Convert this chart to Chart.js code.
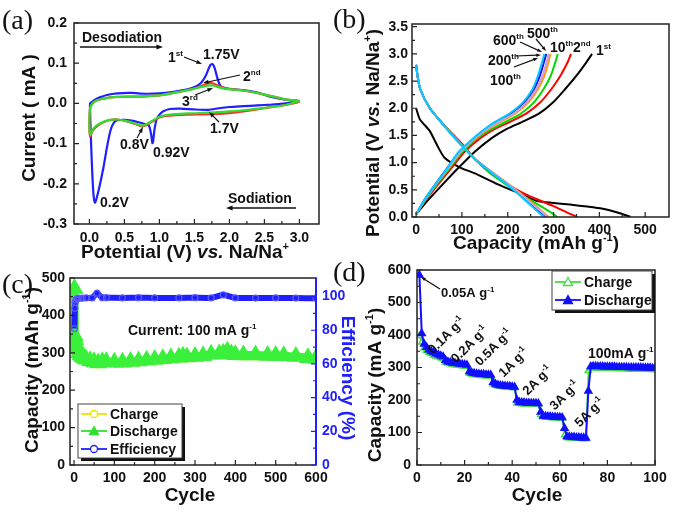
<!DOCTYPE html>
<html>
<head>
<meta charset="utf-8">
<script src="https://cdn.jsdelivr.net/npm/chart.js@4.4.1/dist/chart.umd.min.js"></script>
<style>
  html, body { margin: 0; padding: 0; background: #fff; }
  #wrap { position: relative; width: 673px; height: 512px; overflow: hidden; }
  canvas { position: absolute; left: 0; top: 0; }
</style>
</head>
<body>
<div id="wrap">
  <canvas id="cA" width="673" height="512"></canvas>
  <canvas id="cB" width="673" height="512"></canvas>
  <canvas id="cC" width="673" height="512"></canvas>
  <canvas id="cD" width="673" height="512"></canvas>
</div>
<script>
// ---------- (a) cyclic voltammetry: potential (V) and current (mA), one loop per cycle ----------
const cv1V = [3.0, 2.8, 2.6, 2.4, 2.2, 2.0, 1.85, 1.7, 1.5, 1.3, 1.15, 1.05, 1.0, 0.96, 0.93, 0.91, 0.9, 0.88, 0.85, 0.8, 0.7, 0.6, 0.5, 0.4, 0.35, 0.3, 0.25, 0.2, 0.14, 0.1, 0.08, 0.06, 0.04, 0.02, 0.01,
              0.01, 0.04, 0.08, 0.15, 0.25, 0.4, 0.6, 0.8, 1.0, 1.2, 1.4, 1.52, 1.6, 1.66, 1.7, 1.73, 1.76, 1.79, 1.82, 1.86, 1.9, 2.0, 2.2, 2.4, 2.6, 2.8, 3.0];
const cv1I = [0.004, 0.0, -0.003, -0.005, -0.007, -0.009, -0.012, -0.016, -0.015, -0.013, -0.014, -0.02, -0.028, -0.04, -0.065, -0.095, -0.099, -0.075, -0.055, -0.052, -0.047, -0.043, -0.041, -0.042, -0.048, -0.068, -0.11, -0.16, -0.21, -0.238, -0.247, -0.23, -0.17, -0.08, -0.02,
              0.0, 0.004, 0.009, 0.015, 0.021, 0.025, 0.026, 0.024, 0.025, 0.029, 0.035, 0.042, 0.052, 0.068, 0.085, 0.096, 0.098, 0.088, 0.068, 0.047, 0.04, 0.036, 0.033, 0.027, 0.016, 0.009, 0.006];
const cv2V = [3.0, 2.8, 2.5, 2.2, 2.0, 1.7, 1.4, 1.1, 1.0, 0.9, 0.8, 0.75, 0.65, 0.5, 0.4, 0.3, 0.2, 0.12, 0.05, 0.01,
              0.0, 0.01, 0.04, 0.1, 0.2, 0.4, 0.7, 1.0, 1.2, 1.4, 1.55, 1.65, 1.72, 1.78, 1.85, 1.95, 2.2, 2.5, 2.8, 3.0];
const cv2I = [0.004, -0.004, -0.012, -0.02, -0.024, -0.027, -0.028, -0.031, -0.035, -0.045, -0.055, -0.057, -0.051, -0.043, -0.04, -0.041, -0.047, -0.055, -0.067, -0.082,
              -0.05, -0.012, -0.001, 0.007, 0.012, 0.016, 0.017, 0.02, 0.026, 0.033, 0.04, 0.047, 0.051, 0.049, 0.043, 0.037, 0.032, 0.022, 0.01, 0.005];
const cv3V = [3.0, 2.8, 2.5, 2.2, 2.0, 1.7, 1.4, 1.1, 1.0, 0.9, 0.8, 0.75, 0.65, 0.5, 0.4, 0.3, 0.2, 0.12, 0.05, 0.01,
              0.0, 0.01, 0.04, 0.1, 0.2, 0.4, 0.7, 1.0, 1.2, 1.4, 1.55, 1.65, 1.72, 1.78, 1.85, 1.95, 2.2, 2.5, 2.8, 3.0];
const cv3I = [0.006, -0.004, -0.011, -0.017, -0.02, -0.023, -0.025, -0.029, -0.033, -0.043, -0.053, -0.055, -0.05, -0.043, -0.04, -0.041, -0.046, -0.053, -0.064, -0.078,
              -0.05, -0.012, -0.001, 0.007, 0.012, 0.016, 0.017, 0.02, 0.026, 0.033, 0.039, 0.043, 0.045, 0.044, 0.04, 0.036, 0.032, 0.022, 0.01, 0.006];
const aTicksX = [0, 0.5, 1.0, 1.5, 2.0, 2.5, 3.0];
const aTicksY = [-0.3, -0.2, -0.1, 0.0, 0.1, 0.2];

// ---------- (b) charge/discharge profiles: capacity at fixed potential levels ----------
const cycleNames = ['1st', '2nd', '10th', '100th', '200th', '500th', '600th'];
const chgV = [0.05, 0.3, 0.6, 0.9, 1.2, 1.45, 1.62, 1.75, 1.9, 2.1, 2.35, 2.6, 2.85, 3.0];
const chgCap1 = [0, 25, 58, 92, 128, 165, 198, 232, 268, 298, 325, 350, 372, 384];
const chgCap2 = [0, 20, 48, 77, 106, 140, 172, 205, 240, 270, 295, 315, 331, 338];
const chgCap10 = [0, 19, 45, 73, 101, 133, 165, 195, 228, 256, 278, 294, 304, 309];
const chgCap100 = [0, 18, 43, 70, 98, 130, 158, 184, 216, 244, 266, 280, 289, 293];
const chgCap200 = [0, 17, 42, 68, 95, 126, 152, 175, 206, 235, 257, 270, 279, 284];
const chgCap500 = [0, 18, 43, 70, 97, 128, 155, 180, 212, 240, 262, 276, 285, 290];
const chgCap600 = [0, 17, 42, 68, 93, 125, 150, 172, 203, 232, 254, 266, 275, 280];
const dchV1 = [2.0, 1.8, 1.58, 1.3, 1.09, 0.91, 0.79, 0.61, 0.43, 0.3, 0.22, 0.16, 0.07, 0.0];
const dchCap1 = [0, 8, 30, 47, 62, 96, 132, 176, 227, 262, 343, 402, 445, 468];
const dchV = [2.8, 2.6, 2.35, 2.0, 1.7, 1.35, 1.05, 0.82, 0.6, 0.4, 0.2, 0.08, 0.0];
const dchCap2 = [0, 3, 9, 30, 60, 100, 130, 160, 200, 243, 300, 330, 352];
const dchCap10 = [0, 3, 9, 30, 60, 98, 130, 160, 196, 232, 272, 295, 308];
const dchCap100 = [0, 3, 9, 30, 59, 96, 131, 167, 202, 233, 262, 278, 290];
const dchCap200 = [0, 3, 9, 30, 59, 96, 131, 165, 200, 228, 255, 272, 284];
const dchCap500 = [0, 3, 9, 30, 59, 96, 131, 166, 201, 231, 259, 276, 288];
const dchCap600 = [0, 3, 9, 30, 59, 95, 130, 164, 198, 226, 252, 268, 280];
const bTicksX = [0, 100, 200, 300, 400, 500];
const bTicksY = [0.0, 0.5, 1.0, 1.5, 2.0, 2.5, 3.0, 3.5];

// ---------- (c) long cycling at 100 mA/g ----------
const cycC = [1, 2, 3, 5, 8, 12, 16, 20, 25, 30, 40, 50, 60, 70, 80, 100, 120, 140, 160, 180, 200, 220, 240, 260, 270, 280, 300, 320, 340, 360, 370, 380, 390, 400, 420, 450, 480, 500, 520, 550, 580, 600];
const disC = [472, 345, 335, 322, 310, 300, 294, 290, 287, 283, 279, 276, 273, 276, 276, 275, 275, 277, 278, 280, 282, 284, 286, 288, 291, 289, 290, 292, 296, 297, 299, 304, 297, 295, 294, 294, 293, 293, 292, 290, 287, 285];
const chgC = [380, 338, 330, 318, 306, 297, 291, 287, 284, 280, 276, 273, 270, 273, 273, 272, 272, 274, 275, 277, 279, 281, 283, 285, 288, 286, 287, 289, 293, 294, 296, 301, 294, 292, 291, 291, 290, 290, 289, 287, 284, 282];
const effCyc = [1, 2, 3, 5, 8, 12, 20, 30, 45, 57, 70, 80, 120, 160, 200, 260, 300, 340, 370, 400, 450, 500, 550, 600];
const effC = [81, 93, 96.5, 98, 98.8, 99, 99, 99.2, 99.2, 102, 99.3, 99.3, 99.2, 99.3, 99.2, 99.2, 99.3, 99.2, 101, 99.2, 99.1, 99.2, 99.1, 99.0];
const cTicksX = [0, 100, 200, 300, 400, 500, 600];
const cTicksY = [0, 100, 200, 300, 400, 500];
const cTicksY2 = [0, 20, 40, 60, 80, 100];

// ---------- (d) rate capability ----------
const disD = [585, 405,
  372, 362, 355, 350, 346, 342, 339, 336, 333,
  322, 318, 316, 314, 313, 312, 311, 310, 309, 308,
  288, 284, 282, 281, 280, 279, 279, 278, 278, 277,
  255, 249, 246, 245, 244, 243, 242, 242, 241, 240,
  200, 193, 192, 192, 191, 191, 190, 190, 190, 189,
  163, 151, 150, 149, 149, 148, 148, 147, 147, 146,
  113, 88, 87, 86, 86, 85, 85, 84, 84, 83,
  228,
  303, 304, 304, 303, 303, 303, 302, 302, 302, 302, 302, 301, 301, 301, 301, 301, 300, 300, 300, 300, 300, 300, 299, 299, 299, 299, 298, 298];
const chgD = [398, 378,
  360, 352, 346, 342, 338, 335, 332, 329, 326,
  316, 313, 311, 309, 308, 307, 306, 305, 304, 303,
  282, 279, 278, 277, 276, 275, 275, 274, 274, 273,
  249, 245, 243, 242, 241, 240, 239, 239, 238, 237,
  190, 189, 188, 188, 188, 187, 187, 187, 186, 186,
  155, 148, 147, 146, 146, 145, 145, 145, 144, 144,
  92, 84, 83, 83, 82, 82, 82, 81, 81, 81,
  290,
  298, 299, 299, 298, 298, 298, 297, 297, 297, 297, 297, 296, 296, 296, 296, 296, 295, 295, 295, 295, 295, 295, 294, 294, 294, 294, 293, 293];
const cycD = disD.map((_, i) => i + 1);
const dTicksX = [0, 20, 40, 60, 80, 100];
const dTicksY = [0, 100, 200, 300, 400, 500, 600];

// ---------- drawing helpers ----------
const FONT = "'Liberation Sans', Arial, Helvetica, sans-serif";
const SERIF = "'Liberation Serif', 'Times New Roman', serif";
const W = 673, H = 512, YW = 60, XH = 30;
const INK = '#111';
const BLUE = '#2020ff';

function pts(xs, ys) { return xs.map((x, i) => ({ x: x, y: ys[i] })); }

// parts: strings, or [text, 'sup'] / [text, 'it']
function rich(ctx, parts, x, y, o) {
  o = o || {};
  const size = o.size || 14;
  const segs = parts.map(p => typeof p === 'string' ? { t: p } : { t: p[0], k: p[1] });
  ctx.save();
  ctx.translate(x, y);
  if (o.rot) ctx.rotate(o.rot);
  let w = 0;
  segs.forEach(s => {
    s.f = (s.k === 'it' ? 'italic ' : '') + 'bold ' + (s.k === 'sup' ? Math.round(size * 0.6) : size) + 'px ' + FONT;
    ctx.font = s.f;
    s.w = ctx.measureText(s.t).width;
    w += s.w;
  });
  let cx = o.align === 'left' ? 0 : (o.align === 'right' ? -w : -w / 2);
  const dy = o.mid ? size * 0.36 : 0;
  ctx.fillStyle = o.color || INK;
  ctx.textAlign = 'left';
  ctx.textBaseline = 'alphabetic';
  segs.forEach(s => {
    ctx.font = s.f;
    ctx.fillText(s.t, cx, dy + (s.k === 'sup' ? -size * 0.42 : 0));
    cx += s.w;
  });
  ctx.restore();
}

function arrow(ctx, x1, y1, x2, y2, o) {
  o = o || {};
  const head = o.head || 6;
  const ang = Math.atan2(y2 - y1, x2 - x1);
  ctx.save();
  ctx.strokeStyle = INK; ctx.fillStyle = INK;
  ctx.lineWidth = o.width || 1.2;
  ctx.beginPath();
  ctx.moveTo(x1, y1);
  ctx.lineTo(x2 - Math.cos(ang) * head * 0.8, y2 - Math.sin(ang) * head * 0.8);
  ctx.stroke();
  ctx.beginPath();
  ctx.moveTo(x2, y2);
  ctx.lineTo(x2 - head * Math.cos(ang - 0.35), y2 - head * Math.sin(ang - 0.35));
  ctx.lineTo(x2 - head * Math.cos(ang + 0.35), y2 - head * Math.sin(ang + 0.35));
  ctx.closePath();
  ctx.fill();
  ctx.restore();
}

function panelLabel(ctx, text, x, y) {
  ctx.save();
  ctx.font = '28px ' + SERIF;
  ctx.fillStyle = INK;
  ctx.textBaseline = 'alphabetic';
  ctx.fillText(text, x, y);
  ctx.restore();
}

// box round the plot and Origin-style inward ticks
function frame(chart, majX, majY, majY2) {
  const ctx = chart.ctx, a = chart.chartArea;
  const sx = chart.scales.x, sy = chart.scales.y;
  ctx.save();
  ctx.strokeStyle = '#222';
  ctx.lineWidth = 1.5;
  ctx.strokeRect(a.left, a.top, a.right - a.left, a.bottom - a.top);
  ctx.lineWidth = 1.2;
  const marks = (vals, fn) => {
    vals.forEach((v, i) => {
      fn(v, 5);
      if (i < vals.length - 1) fn((v + vals[i + 1]) / 2, 3);
    });
  };
  ctx.beginPath();
  marks(majX, (v, len) => { const p = sx.getPixelForValue(v); ctx.moveTo(p, a.bottom); ctx.lineTo(p, a.bottom - len); });
  marks(majY, (v, len) => { const p = sy.getPixelForValue(v); ctx.moveTo(a.left, p); ctx.lineTo(a.left + len, p); });
  ctx.stroke();
  if (majY2) {
    const s2 = chart.scales.y2;
    ctx.strokeStyle = BLUE;
    ctx.lineWidth = 2;
    ctx.beginPath();
    ctx.moveTo(a.right, a.top); ctx.lineTo(a.right, a.bottom);
    ctx.stroke();
    ctx.lineWidth = 1.2;
    ctx.beginPath();
    marks(majY2, (v, len) => { const p = s2.getPixelForValue(v); ctx.moveTo(a.right, p); ctx.lineTo(a.right - len, p); });
    ctx.stroke();
  }
  ctx.restore();
}

function legendBox(ctx, x, y, w, h) {
  ctx.save();
  ctx.fillStyle = '#111';
  ctx.fillRect(x + 3, y + 3, w, h);
  ctx.fillStyle = '#fff';
  ctx.fillRect(x, y, w, h);
  ctx.strokeStyle = '#444';
  ctx.lineWidth = 1;
  ctx.strokeRect(x, y, w, h);
  ctx.restore();
}

function legendRow(ctx, x, y, color, style, filled, label) {
  ctx.save();
  ctx.strokeStyle = color;
  ctx.lineWidth = 1.8;
  ctx.beginPath(); ctx.moveTo(x, y); ctx.lineTo(x + 26, y); ctx.stroke();
  ctx.lineWidth = 1.3;
  ctx.fillStyle = filled ? color : '#fff';
  ctx.beginPath();
  if (style === 'circle') ctx.arc(x + 13, y, 3.5, 0, Math.PI * 2);
  else { ctx.moveTo(x + 13, y - 4.5); ctx.lineTo(x + 17.5, y + 3.5); ctx.lineTo(x + 8.5, y + 3.5); ctx.closePath(); }
  ctx.fill(); ctx.stroke();
  ctx.restore();
  rich(ctx, [label], x + 29, y + 5, { size: 14, align: 'left' });
}

function axis(min, max, ticksArr, fmt, pad, extra) {
  return Object.assign({
    type: 'linear', min: min, max: max,
    grid: { display: false, drawTicks: false },
    border: { display: false },
    ticks: { color: INK, font: { family: FONT, size: 14, weight: 'bold' }, padding: pad, callback: fmt },
    afterBuildTicks: s => { s.ticks = ticksArr.map(v => ({ value: v })); }
  }, extra);
}
const xFit = s => { s.height = XH; s.paddingLeft = 0; s.paddingRight = 0; };
const yFit = s => { s.width = YW; s.paddingTop = 0; s.paddingBottom = 0; };
const y2Fit = s => { s.width = 40; s.paddingTop = 0; s.paddingBottom = 0; };
const f1 = v => v.toFixed(1);
const f0 = v => String(v);

function makeChart(id, box, scales, datasets, draw) {
  return new Chart(document.getElementById(id), {
    type: 'scatter',
    data: { datasets: datasets },
    options: {
      responsive: false,
      animation: false,
      events: [],
      layout: { padding: { left: box.l - YW, top: box.t, right: W - box.r - (box.rw || 0), bottom: H - box.b - XH } },
      plugins: { legend: { display: false }, tooltip: { enabled: false } },
      scales: scales
    },
    plugins: [{ id: 'deco' + id, afterDraw: chart => draw(chart) }]
  });
}

function curve(xs, ys, color, width, order) {
  return { data: pts(xs, ys), showLine: true, borderColor: color, borderWidth: width, pointRadius: 0, tension: 0.2, order: order };
}

// ---------- (a) ----------
makeChart('cA', { l: 74, t: 23, r: 319, b: 224 }, {
  x: axis(-0.22, 3.28, aTicksX, f1, 6, { afterFit: xFit }),
  y: axis(-0.3, 0.2, aTicksY, f1, 7, { afterFit: yFit })
}, [
  curve(cv3V, cv3I, '#30dd30', 2.2, 0),
  curve(cv2V, cv2I, '#ff3030', 2.2, 1),
  curve(cv1V, cv1I, '#1f1fff', 2.2, 2)
], chart => {
  const ctx = chart.ctx;
  frame(chart, aTicksX, aTicksY);
  panelLabel(ctx, '(a)', 2, 29);
  rich(ctx, ['Potential (V) ', ['vs.', 'it'], ' Na/Na', ['+', 'sup']], 185, 258, { size: 19 });
  rich(ctx, ['Current ( mA )'], 35, 118, { size: 19, rot: -Math.PI / 2 });
  rich(ctx, ['Desodiation'], 82, 42, { align: 'left' });
  arrow(ctx, 80, 47, 163, 47, { width: 1.6, head: 7 });
  rich(ctx, ['Sodiation'], 228, 203, { align: 'left' });
  arrow(ctx, 296, 208, 226, 208, { width: 1.6, head: 7 });
  rich(ctx, ['1', ['st', 'sup']], 168, 62, { align: 'left' });
  arrow(ctx, 184, 57, 202, 64);
  rich(ctx, ['1.75V'], 203, 59, { align: 'left' });
  rich(ctx, ['2', ['nd', 'sup']], 243, 81, { align: 'left' });
  arrow(ctx, 240, 75, 203, 83);
  rich(ctx, ['3', ['rd', 'sup']], 182, 106, { align: 'left' });
  arrow(ctx, 195, 95, 213, 88);
  rich(ctx, ['1.7V'], 210, 133, { align: 'left' });
  arrow(ctx, 219, 122, 209, 112);
  rich(ctx, ['0.8V'], 120, 149, { align: 'left' });
  arrow(ctx, 137, 138, 143, 127);
  rich(ctx, ['0.92V'], 153, 157, { align: 'left' });
  rich(ctx, ['0.2V'], 100, 207, { align: 'left' });
});

// ---------- (b) ----------
const bColors = ['#000000', '#ff0000', '#00d800', '#ff9900', '#0000ff', '#c9a0e8', '#00ccff'];
const bCharge = [chgCap1, chgCap2, chgCap10, chgCap100, chgCap200, chgCap500, chgCap600];
const bDischarge = [dchCap1, dchCap2, dchCap10, dchCap100, dchCap200, dchCap500, dchCap600];
const bSets = [];
cycleNames.forEach((name, i) => {
  bSets.push(curve(bCharge[i], chgV, bColors[i], 2, 10 - i));
  bSets.push(curve(bDischarge[i], i === 0 ? dchV1 : dchV, bColors[i], 2, 10 - i));
});
makeChart('cB', { l: 412, t: 24, r: 669, b: 217 }, {
  x: axis(-9, 552, bTicksX, f0, 5, { afterFit: xFit }),
  y: axis(0, 3.55, bTicksY, f1, 4, { afterFit: yFit })
}, bSets, chart => {
  const ctx = chart.ctx;
  frame(chart, bTicksX, bTicksY);
  panelLabel(ctx, '(b)', 333, 28);
  rich(ctx, ['Capacity (mAh g', ['-1', 'sup'], ')'], 536, 249, { size: 19 });
  rich(ctx, ['Potential (V ', ['vs.', 'it'], ' Na/Na', ['+', 'sup'], ')'], 379, 133, { size: 19, rot: -Math.PI / 2 });
  rich(ctx, ['600', ['th', 'sup']], 493, 45, { align: 'left' });
  rich(ctx, ['500', ['th', 'sup']], 527, 38, { align: 'left' });
  rich(ctx, ['10', ['th', 'sup']], 550, 52, { align: 'left' });
  rich(ctx, ['2', ['nd', 'sup']], 573, 52, { align: 'left' });
  rich(ctx, ['1', ['st', 'sup']], 596, 55, { align: 'left' });
  rich(ctx, ['200', ['th', 'sup']], 488, 65, { align: 'left' });
  rich(ctx, ['100', ['th', 'sup']], 490, 85, { align: 'left' });
  arrow(ctx, 520, 42, 542, 52, { head: 5 });
  arrow(ctx, 536, 39, 546, 51, { head: 5 });
  arrow(ctx, 516, 56, 541, 55, { head: 5 });
  arrow(ctx, 514, 67, 538, 58, { head: 5 });
});

// ---------- (c) ----------
makeChart('cC', { l: 70, t: 278, r: 316, b: 465, rw: 40 }, {
  x: axis(-10, 600, cTicksX, f0, 5, { afterFit: xFit }),
  y: axis(0, 500, cTicksY, f0, 5, { afterFit: yFit }),
  y2: axis(0, 111, cTicksY2, f0, 6, { position: 'right', afterFit: y2Fit,
    ticks: { color: BLUE, font: { family: FONT, size: 14, weight: 'bold' }, padding: 6, callback: f0 } })
}, [
  { data: pts(effCyc, effC), yAxisID: 'y2', showLine: true, borderColor: BLUE, borderWidth: 6, tension: 0.1,
    pointStyle: 'circle', pointRadius: 3, pointBorderWidth: 1.2, pointBorderColor: '#5a5aff', pointBackgroundColor: 'rgba(255,255,255,0)', order: 0 },
  { data: pts(cycC, disC), showLine: true, borderColor: '#3bf03b', borderWidth: 8, tension: 0.2,
    pointStyle: 'triangle', pointRadius: 2.5, pointBorderColor: '#3bf03b', pointBackgroundColor: '#3bf03b', order: 1 },
  { data: pts(cycC, chgC), showLine: true, borderColor: '#f2f200', borderWidth: 3, tension: 0.2,
    pointStyle: 'circle', pointRadius: 3, pointBorderColor: '#f2f200', pointBackgroundColor: 'rgba(255,255,255,0)', order: 2 }
], chart => {
  const ctx = chart.ctx;
  frame(chart, cTicksX, cTicksY, cTicksY2);
  panelLabel(ctx, '(c)', 2, 293);
  rich(ctx, ['Cycle'], 190, 501, { size: 19 });
  rich(ctx, ['Capacity (mAh g', ['-1', 'sup'], ')'], 38, 370, { size: 19, rot: -Math.PI / 2 });
  rich(ctx, ['Efficiency (%)'], 342, 378, { size: 19, rot: Math.PI / 2, color: BLUE });
  rich(ctx, ['Current: 100 mA g', ['-1', 'sup']], 128, 335, { align: 'left' });
  legendBox(ctx, 78, 404, 104, 54);
  legendRow(ctx, 81, 414, '#e8e800', 'circle', false, 'Charge');
  legendRow(ctx, 81, 431, '#30e030', 'triangle', true, 'Discharge');
  legendRow(ctx, 81, 449, BLUE, 'circle', false, 'Efficiency');
});

// ---------- (d) ----------
makeChart('cD', { l: 417, t: 270, r: 655, b: 465 }, {
  x: axis(0, 100, dTicksX, f0, 5, { afterFit: xFit }),
  y: axis(0, 600, dTicksY, f0, 6, { afterFit: yFit })
}, [
  { data: pts(cycD, disD), showLine: true, borderColor: '#1010ff', borderWidth: 2, tension: 0,
    pointStyle: 'triangle', pointRadius: 3.5, pointBorderColor: '#1010ff', pointBackgroundColor: '#1010ff', order: 0 },
  { data: pts(cycD, chgD), showLine: true, borderColor: '#40e040', borderWidth: 1.5, tension: 0,
    pointStyle: 'triangle', pointRadius: 3.5, pointBorderColor: '#40e040', pointBackgroundColor: '#fff', order: 1 }
], chart => {
  const ctx = chart.ctx;
  frame(chart, dTicksX, dTicksY);
  panelLabel(ctx, '(d)', 333, 281);
  rich(ctx, ['Cycle'], 537, 501, { size: 19 });
  rich(ctx, ['Capacity (mA g', ['-1', 'sup'], ')'], 381, 385, { size: 19, rot: -Math.PI / 2 });
  rich(ctx, ['0.05A g', ['-1', 'sup']], 441, 297, { size: 13, align: 'left' });
  arrow(ctx, 440, 289, 421, 277, { head: 5 });
  const rot = -Math.PI / 4;
  rich(ctx, ['0.1A g', ['-1', 'sup']], 446, 335, { size: 13, rot: rot, mid: true });
  rich(ctx, ['0.2A g', ['-1', 'sup']], 469, 344, { size: 13, rot: rot, mid: true });
  rich(ctx, ['0.5A g', ['-1', 'sup']], 493, 347, { size: 13, rot: rot, mid: true });
  rich(ctx, ['1A g', ['-1', 'sup']], 513, 362, { size: 13, rot: rot, mid: true });
  rich(ctx, ['2A g', ['-1', 'sup']], 537, 380, { size: 13, rot: rot, mid: true });
  rich(ctx, ['3A g', ['-1', 'sup']], 564, 395, { size: 13, rot: rot, mid: true });
  rich(ctx, ['5A g', ['-1', 'sup']], 589, 412, { size: 13, rot: rot, mid: true });
  rich(ctx, ['100mA g', ['-1', 'sup']], 588, 358, { size: 14, align: 'left' });
  legendBox(ctx, 552, 271, 100, 39);
  legendRow(ctx, 555, 282, '#40e040', 'triangle', false, 'Charge');
  legendRow(ctx, 555, 300, '#1010ff', 'triangle', true, 'Discharge');
});
</script>
</body>
</html>
